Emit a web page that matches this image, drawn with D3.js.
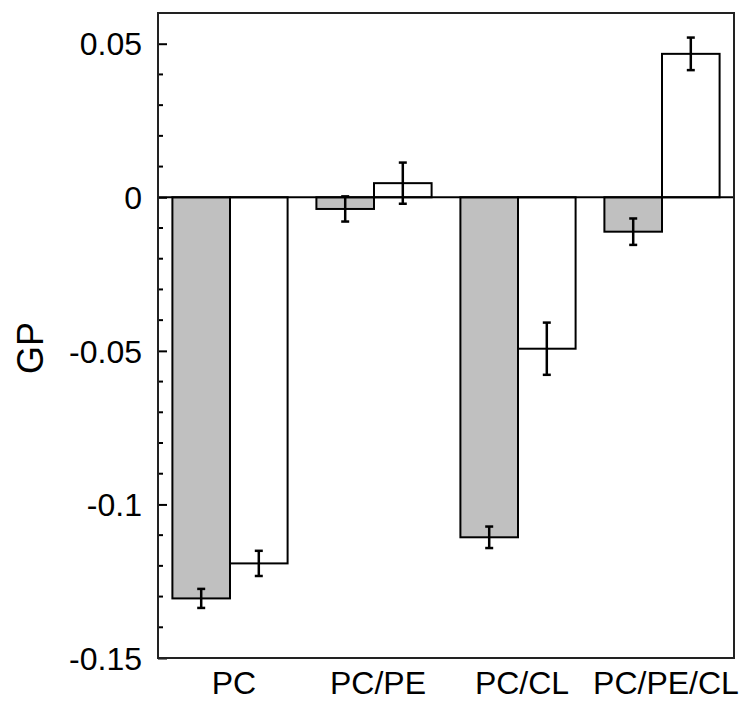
<!DOCTYPE html>
<html>
<head>
<meta charset="utf-8">
<script src="https://cdn.jsdelivr.net/npm/d3@7"></script>
<style>
  body { margin: 0; background: #fff; }
  text { font-family: "Liberation Sans", Arial, sans-serif; fill: #000; }
</style>
</head>
<body>
<svg id="chart" width="749" height="702"></svg>
<script>
// Categories and series values
const categories = ["PC", "PC/PE", "PC/CL", "PC/PE/CL"];
const grayValues = [-0.1306, -0.0038, -0.1107, -0.0112];
const grayErrors = [0.0031, 0.0041, 0.0035, 0.0043];
const whiteValues = [-0.1192, 0.0046, -0.0493, 0.0467];
const whiteErrors = [0.0041, 0.0067, 0.0085, 0.0053];
const majorTicks = [0.05, 0, -0.05, -0.1, -0.15];
const tickLabels = ["0.05", "0", "-0.05", "-0.1", "-0.15"];

const width = 749, height = 702;
const margin = { top: 13, right: 15, bottom: 44, left: 158 };

const svg = d3.select("#chart");

const x = d3.scaleBand()
    .domain(categories)
    .range([margin.left, width - margin.right])
    .paddingInner(0.2)
    .paddingOuter(0.1);

const sub = d3.scaleBand()
    .domain(["gray", "white"])
    .range([0, x.bandwidth()]);

const y = d3.scaleLinear()
    .domain([-0.15, 0.06])
    .range([height - margin.bottom, margin.top]);

// rows for bars
const rows = [];
categories.forEach((c, i) => {
    rows.push({ cat: c, key: "gray", v: grayValues[i], e: grayErrors[i] });
    rows.push({ cat: c, key: "white", v: whiteValues[i], e: whiteErrors[i] });
});

// Bars
svg.append("g")
    .selectAll("rect")
    .data(rows)
    .enter().append("rect")
    .attr("x", d => x(d.cat) + sub(d.key))
    .attr("width", sub.bandwidth())
    .attr("y", d => Math.min(y(d.v), y(0)))
    .attr("height", d => Math.abs(y(d.v) - y(0)))
    .attr("fill", d => d.key === "gray" ? "#c0c0c0" : "#fff")
    .attr("stroke", "#000")
    .attr("stroke-width", 2);

// Zero line
svg.append("line")
    .attr("x1", margin.left).attr("x2", width - margin.right)
    .attr("y1", y(0)).attr("y2", y(0))
    .attr("stroke", "#000")
    .attr("stroke-width", 2);

// Error bars
const err = svg.append("g")
    .attr("stroke", "#000")
    .attr("stroke-width", 2.5);

rows.forEach(d => {
    const cx = x(d.cat) + sub(d.key) + sub.bandwidth() / 2;
    const y1 = y(d.v + d.e), y2 = y(d.v - d.e);
    err.append("line").attr("x1", cx).attr("x2", cx).attr("y1", y1).attr("y2", y2);
    err.append("line").attr("x1", cx - 4).attr("x2", cx + 4).attr("y1", y1).attr("y2", y1);
    err.append("line").attr("x1", cx - 4).attr("x2", cx + 4).attr("y1", y2).attr("y2", y2);
});

// Y axis: major ticks inside with labels, minor ticks every 0.01
const yAxis = svg.append("g")
    .attr("transform", `translate(${margin.left},0)`)
    .call(d3.axisRight(y)
        .tickValues(majorTicks)
        .tickSize(9)
        .tickFormat((d, i) => tickLabels[i]));

yAxis.select(".domain").remove();
yAxis.selectAll(".tick line").attr("stroke", "#000").attr("stroke-width", 2);
yAxis.selectAll(".tick text")
    .attr("x", -16)
    .attr("text-anchor", "end")
    .attr("font-size", 32)
    .attr("font-family", "Liberation Sans, Arial, sans-serif")
    .attr("dy", "0.35em");

const minor = d3.range(-14, 6).map(k => k / 100).filter(v => !majorTicks.some(m => Math.abs(m - v) < 1e-9));
svg.append("g")
    .selectAll("line")
    .data(minor)
    .enter().append("line")
    .attr("x1", margin.left).attr("x2", margin.left + 5)
    .attr("y1", d => y(d)).attr("y2", d => y(d))
    .attr("stroke", "#000")
    .attr("stroke-width", 2);

// X labels
svg.append("g")
    .selectAll("text")
    .data(categories)
    .enter().append("text")
    .attr("x", d => x(d) + x.bandwidth() / 2 + 4)
    .attr("y", 694)
    .attr("text-anchor", "middle")
    .attr("font-size", 32)
    .text(d => d);

// Y title
svg.append("text")
    .attr("transform", "translate(43,348) rotate(-90)")
    .attr("text-anchor", "middle")
    .attr("font-size", 36)
    .text("GP");

// Frame
svg.append("rect")
    .attr("x", margin.left).attr("y", margin.top)
    .attr("width", width - margin.left - margin.right)
    .attr("height", height - margin.top - margin.bottom)
    .attr("fill", "none")
    .attr("stroke", "#222")
    .attr("stroke-width", 2);
</script>
</body>
</html>
